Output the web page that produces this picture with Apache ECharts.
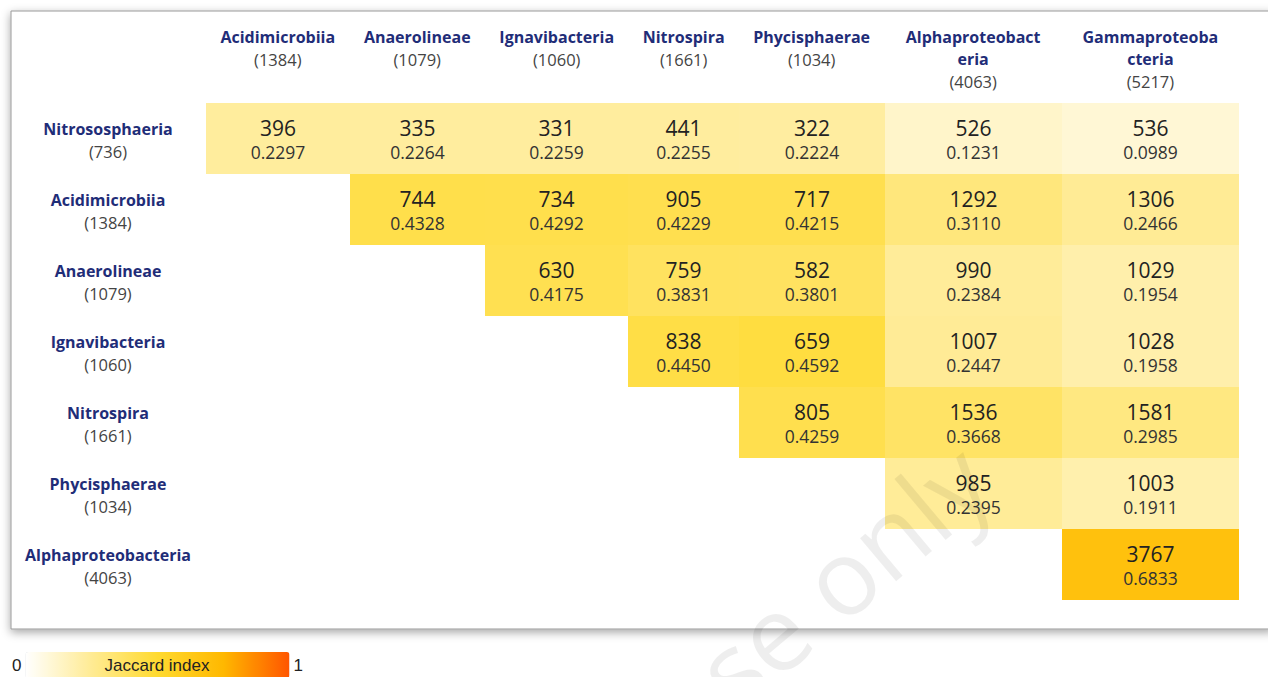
<!DOCTYPE html>
<html><head><meta charset="utf-8">
<script src="https://cdn.jsdelivr.net/npm/echarts@6/dist/echarts.min.js"></script>
<style>html,body{margin:0;padding:0;background:#fff;}#c{width:1268px;height:677px;}</style>
</head><body><div id="c"></div>
<script>
const rowNames = ['Nitrososphaeria','Acidimicrobiia','Anaerolineae','Ignavibacteria','Nitrospira','Phycisphaerae','Alphaproteobacteria'];
const rowTotals = [736,1384,1079,1060,1661,1034,4063];
const colNames = ['Acidimicrobiia','Anaerolineae','Ignavibacteria','Nitrospira','Phycisphaerae','Alphaproteobacteria','Gammaproteobacteria'];
const colTotals = [1384,1079,1060,1661,1034,4063,5217];
const sharedCounts = [
  [396, 335, 331, 441, 322, 526, 536],
  [null, 744, 734, 905, 717, 1292, 1306],
  [null, null, 630, 759, 582, 990, 1029],
  [null, null, null, 838, 659, 1007, 1028],
  [null, null, null, null, 805, 1536, 1581],
  [null, null, null, null, null, 985, 1003],
  [null, null, null, null, null, null, 3767]
];
const jaccardValues = [
  [0.2297, 0.2264, 0.2259, 0.2255, 0.2224, 0.1231, 0.0989],
  [null, 0.4328, 0.4292, 0.4229, 0.4215, 0.3110, 0.2466],
  [null, null, 0.4175, 0.3831, 0.3801, 0.2384, 0.1954],
  [null, null, null, 0.4450, 0.4592, 0.2447, 0.1958],
  [null, null, null, null, 0.4259, 0.3668, 0.2985],
  [null, null, null, null, null, 0.2395, 0.1911],
  [null, null, null, null, null, null, 0.6833]
];
const legendTicks = ['0', '1'];
const legendTitle = 'Jaccard index';
const watermarkText = 'use only';

const FONT = '"Open Sans", "Noto Sans", sans-serif';
const HEAD_SIZE = 16;
const WRAP = 148, PAD = 27, BREAK_AT = 138;

const ctx = document.createElement('canvas').getContext('2d');
ctx.font = 'bold ' + HEAD_SIZE + 'px ' + FONT;
function wrapName(name) {
  const lines = []; let cur = '';
  for (const ch of name) {
    if (cur && ctx.measureText(cur + ch).width > BREAK_AT) { lines.push(cur); cur = ch; }
    else cur += ch;
  }
  if (cur) lines.push(cur);
  return lines;
}
const colW = colNames.map(n => Math.min(ctx.measureText(n).width, WRAP) + PAD);
const colStart = [];
colW.reduce((acc, w, i) => { colStart[i] = acc; return acc + w; }, 0);
const totalW = colW.reduce((a, b) => a + b, 0);

const cells = [];
sharedCounts.forEach((row, r) => row.forEach((v, c) => {
  if (v != null) cells.push([c, r, v, jaccardValues[r][c]]);
}));

const chart = echarts.init(document.getElementById('c'), null, {renderer: 'svg'});
chart.setOption({
  animation: false,
  grid: {left: 206, right: 29, top: 103, bottom: 77},
  xAxis: {type: 'value', min: 0, max: totalW, show: false},
  yAxis: {
    type: 'category', data: rowNames, inverse: true,
    axisLine: {show: false}, axisTick: {show: false}, splitLine: {show: false},
    axisLabel: {
      interval: 0, align: 'center', margin: 98,
      formatter: (v, i) => '{n|' + v + '}\n{t|(' + rowTotals[i] + ')}',
      rich: {
        n: {fontFamily: FONT, fontWeight: 'bold', fontSize: HEAD_SIZE, color: '#1f2d78', lineHeight: 22, padding: [3, 0, 0, 0]},
        t: {fontFamily: FONT, fontSize: 16.5, color: '#444', lineHeight: 22, padding: [3, 0, 0, 0]}
      }
    }
  },
  visualMap: {
    type: 'continuous', min: 0, max: 1, seriesIndex: 1, dimension: 3,
    orient: 'horizontal', left: -3, bottom: -16, itemWidth: 26, itemHeight: 264,
    text: [legendTicks[1], legendTicks[0]], textGap: 4, calculable: false, hoverLink: false,
    inRange: {color: ['#FFFFFF', '#FFEB94', '#FFDA30', '#FFB800', '#FF5500']},
    textStyle: {color: '#222', fontSize: 17, fontFamily: '"Liberation Sans", Arial, sans-serif'}
  },
  graphic: [
    {type: 'rect', z: -10, shape: {x: 11, y: 11, width: 1262, height: 618},
     style: {fill: '#fff', stroke: '#999', lineWidth: 1, shadowBlur: 10, shadowOffsetY: 3, shadowColor: 'rgba(0,0,0,0.35)'}},
    {type: 'text', z: 100, x: 157, y: 665,
     style: {text: legendTitle, fill: '#222', font: '17px "Liberation Sans", Arial, sans-serif', align: 'center', verticalAlign: 'middle'}},
    {type: 'text', z: 100, x: 1007, y: 504, rotation: 40 * Math.PI / 180,
     style: {text: watermarkText, fill: 'rgba(0,0,0,0.065)', font: '105px "Open Sans", sans-serif', align: 'right', verticalAlign: 'bottom'}}
  ],
  series: [
    {
      type: 'custom', silent: true,
      data: colNames.map((n, i) => [i, 0]),
      renderItem: (params, api) => {
        const i = api.value(0);
        const p = api.coord([colStart[i] + colW[i] / 2, 0]);
        const h = api.size([0, 1])[1];
        const top = p[1] - h / 2;
        const lines = wrapName(colNames[i]).map(l => '{n|' + l + '}');
        lines.push('{t|(' + colTotals[i] + ')}');
        return {
          type: 'text', x: p[0], y: top - 77,
          style: {
            text: lines.join('\n'), align: 'center', verticalAlign: 'top',
            rich: {
              n: {fontFamily: FONT, fontWeight: 'bold', fontSize: HEAD_SIZE, fill: '#1f2d78', lineHeight: 22, align: 'center'},
              t: {fontFamily: FONT, fontSize: 16.5, fill: '#444', lineHeight: 22, align: 'center'}
            }
          }
        };
      }
    },
    {
      type: 'custom', silent: true,
      data: cells,
      renderItem: (params, api) => {
        const c = api.value(0), r = api.value(1);
        const a = api.coord([colStart[c], r]);
        const b = api.coord([colStart[c] + colW[c], r]);
        const h = api.size([0, 1])[1];
        const x0 = Math.round(a[0]), x1 = Math.round(b[0]);
        const y0 = Math.round(a[1] - h / 2), y1 = Math.round(a[1] + h / 2);
        const cx = (x0 + x1) / 2, cy = a[1];
        return {
          type: 'group', children: [
            {type: 'rect', shape: {x: x0, y: y0, width: x1 - x0, height: y1 - y0}, style: {fill: api.visual('color')}},
            {type: 'text', x: cx, y: cy - 10.5, style: {text: String(api.value(2)), fill: '#222', font: '21px ' + FONT, align: 'center', verticalAlign: 'middle'}},
            {type: 'text', x: cx, y: cy + 13.5, style: {text: api.value(3).toFixed(4), fill: '#333', font: '17.5px ' + FONT, align: 'center', verticalAlign: 'middle'}}
          ]
        };
      }
    }
  ]
});
</script></body></html>
